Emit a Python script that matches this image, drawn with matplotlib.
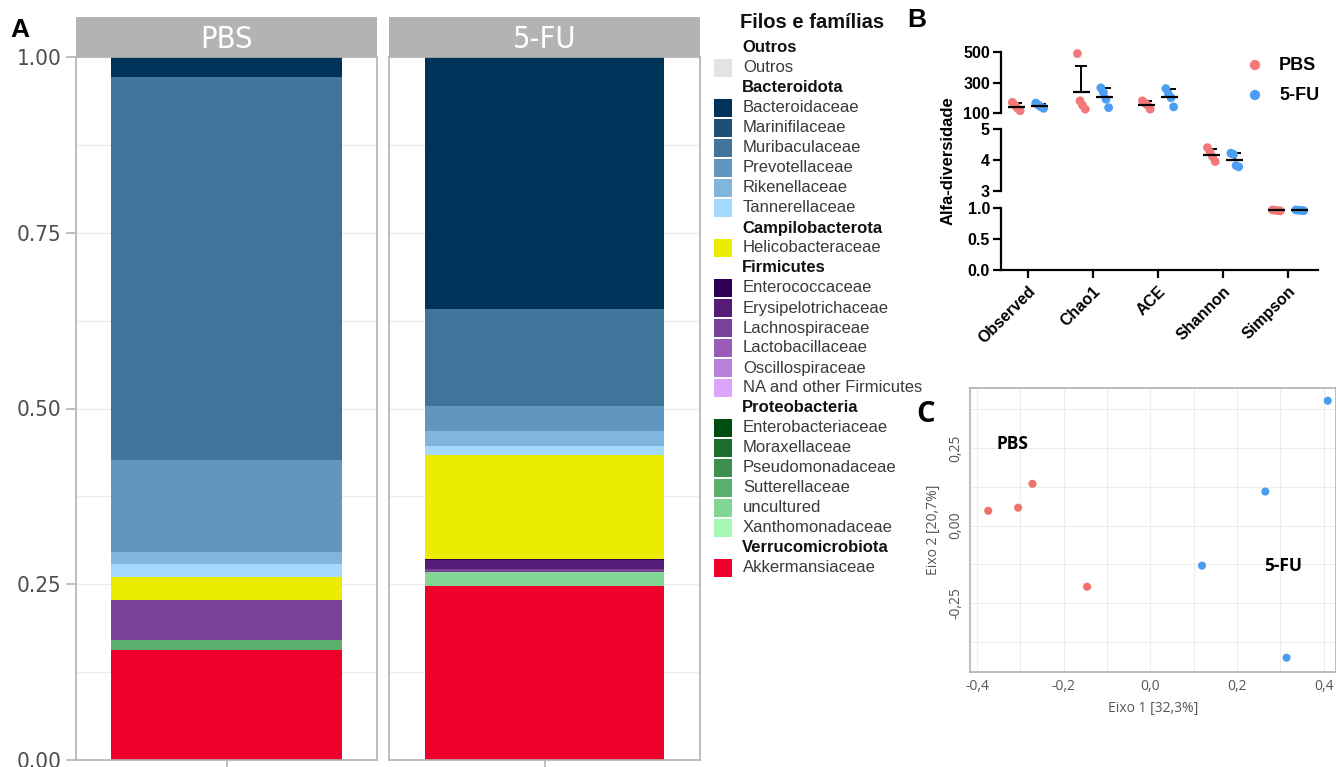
import numpy as np
import matplotlib.pyplot as plt
from matplotlib import font_manager
from matplotlib.patches import Rectangle

W, H = 1336, 767


def tem_fonte(nome):
    try:
        font_manager.findfont(font_manager.FontProperties(family=nome), fallback_to_default=False)
        return True
    except Exception:
        return False


narrow = 'Liberation Sans Narrow' if tem_fonte('Liberation Sans Narrow') else 'DejaVu Sans'
plt.rcParams['font.family'] = ['Liberation Sans', 'DejaVu Sans']

# ---- dados painel A (abundancia relativa) ----
grupos = ['PBS', '5-FU']
filos = ['Outros', 'Bacteroidota', 'Campilobacterota', 'Firmicutes', 'Proteobacteria', 'Verrucomicrobiota']
n_por_filo = [1, 6, 1, 6, 6, 1]
familias = ['Outros',
            'Bacteroidaceae', 'Marinifilaceae', 'Muribaculaceae', 'Prevotellaceae', 'Rikenellaceae', 'Tannerellaceae',
            'Helicobacteraceae',
            'Enterococcaceae', 'Erysipelotrichaceae', 'Lachnospiraceae', 'Lactobacillaceae', 'Oscillospiraceae',
            'NA and other Firmicutes',
            'Enterobacteriaceae', 'Moraxellaceae', 'Pseudomonadaceae', 'Sutterellaceae', 'uncultured',
            'Xanthomonadaceae',
            'Akkermansiaceae']
cores = ['#e3e3e3',
         '#00335a', '#1d4f79', '#41749b', '#6096bf', '#80b5de', '#a3d8ff',
         '#ebec00',
         '#2e0055', '#561b76', '#7a4199', '#9a5cb9', '#ba7fd8', '#dca5fb',
         '#004d12', '#1b6e2e', '#3c8f4f', '#5bb06d', '#82d693', '#a6f8b3',
         '#ee002a']
abund_pbs = [0, 0.029, 0, 0.544, 0.131, 0.017, 0.018, 0.034, 0, 0, 0.057, 0, 0, 0,
             0, 0, 0, 0.014, 0, 0, 0.156]
abund_fu = [0, 0.358, 0, 0.138, 0.036, 0.022, 0.012, 0.148, 0.002, 0.013, 0.004, 0, 0, 0,
            0, 0, 0, 0, 0.020, 0, 0.247]

# ---- dados painel B (alfa-diversidade) ----
metricas = ['Observed', 'Chao1', 'ACE', 'Shannon', 'Simpson']
alfa_pbs = [[170, 150, 130, 115], [490, 180, 150, 125], [180, 165, 150, 125],
            [4.40, 4.25, 4.10, 3.95], [0.970, 0.965, 0.960, 0.955]]
alfa_fu = [[165, 152, 140, 130], [265, 235, 190, 135], [260, 225, 200, 140],
           [4.22, 4.18, 3.82, 3.78], [0.970, 0.966, 0.962, 0.958]]
eixo_metrica = [0, 0, 0, 1, 2]

# ---- dados painel C (PCoA) ----
pc_pbs_x = [-0.374, -0.305, -0.272, -0.146]
pc_pbs_y = [0.048, 0.058, 0.135, -0.197]
pc_fu_x = [0.119, 0.265, 0.314, 0.409]
pc_fu_y = [-0.129, 0.110, -0.426, 0.403]

cor_pbs = '#f4777a'
cor_fu = '#4b9ef2'


def px(l, t, r, b):
    return [l / W, 1 - b / H, (r - l) / W, (b - t) / H]


fig = plt.figure(figsize=(W / 100, H / 100), dpi=100)

# ================= Painel A =================
painel_x = [(76, 377), (389, 700)]
for i, (g, ab) in enumerate(zip(grupos, [abund_pbs, abund_fu])):
    ax = fig.add_axes(px(painel_x[i][0], 57, painel_x[i][1], 760))
    base = 0
    for fam, cor, v in reversed(list(zip(familias, cores, ab))):
        if v > 0:
            ax.bar(1, v, width=0.92, bottom=base, color=cor, linewidth=0, zorder=2)
        base += v
    ax.set_xlim(0.4, 1.6)
    ax.set_ylim(0, 1)
    ax.set_yticks([0, 0.25, 0.5, 0.75, 1.0])
    ax.set_yticks([0.125, 0.375, 0.625, 0.875], minor=True)
    ax.set_xticks([1])
    ax.set_xticklabels([''])
    ax.grid(True, which='both', axis='y', color='#ebebeb', linewidth=1, zorder=0)
    ax.grid(True, which='major', axis='x', color='#ebebeb', linewidth=1, zorder=0)
    ax.set_axisbelow(True)
    for s in ax.spines.values():
        s.set_color('#b3b3b3')
        s.set_linewidth(1.2)
    ax.tick_params(which='minor', length=0)
    ax.tick_params(which='major', color='#b3b3b3', length=7, width=1.2)
    if i == 0:
        ax.set_yticklabels(['0.00', '0.25', '0.50', '0.75', '1.00'], family=narrow,
                           fontstretch='condensed', fontsize=16, color='#4d4d4d')
    else:
        ax.set_yticklabels([])
        ax.tick_params(axis='y', length=0)
    # faixa do grupo
    strip = fig.add_axes(px(painel_x[i][0], 17, painel_x[i][1], 57))
    strip.set_facecolor('#b3b3b3')
    strip.set_xticks([])
    strip.set_yticks([])
    for s in strip.spines.values():
        s.set_visible(False)
    strip.text(0.5, 0.45, g, ha='center', va='center', color='white', fontsize=22,
               family=narrow, fontstretch='condensed', transform=strip.transAxes)

# sobreposicao em pixels para legendas e letras
ov = fig.add_axes([0, 0, 1, 1], zorder=5)
ov.set_xlim(0, W)
ov.set_ylim(H, 0)
ov.axis('off')
ov.patch.set_alpha(0)

ov.text(740, 22, 'Filos e famílias', fontsize=14.5, fontweight='bold', va='center', ha='left',
        color='#111111')
linha = 0
k = 0
for filo, n in zip(filos, n_por_filo):
    y = 48 + 20 * linha
    ov.text(742, y, filo, fontsize=12, fontweight='bold', va='center', ha='left', color='#111111')
    linha += 1
    for j in range(n):
        y = 48 + 20 * linha
        ov.add_patch(Rectangle((714, y - 9), 18, 18, facecolor=cores[k], edgecolor='none'))
        ov.text(743, y, familias[k], fontsize=12, va='center', ha='left', color='#3a3a3a')
        linha += 1
        k += 1

ov.text(10, 30, 'A', fontsize=19, fontweight='bold', va='center', ha='left')
ov.text(907, 20, 'B', fontsize=19, fontweight='bold', va='center', ha='left')
ov.text(916, 414, 'C', fontsize=21, fontweight='bold', va='center', ha='left',
        family=['Open Sans', 'DejaVu Sans'])

# legenda do painel B
for j, (g, cor) in enumerate(zip(grupos, [cor_pbs, cor_fu])):
    ov.scatter(1255, 65 + 30 * j, s=55, color=cor, edgecolor='none')
    ov.text(1279, 65 + 30 * j, g, fontsize=13, fontweight='bold', va='center', ha='left')

# ================= Painel B =================
seg_px = [(49, 114.5), (127.5, 192.5), (205, 270)]
seg_lim = [(90, 520), (2.95, 5.05), (0, 1.05)]
seg_bounds = [(100, 500), (3, 5), (0, 1)]
seg_ticks = [([100, 300, 500], ['100', '300', '500']),
             ([3, 4, 5], ['3', '4', '5']),
             ([0, 0.5, 1.0], ['0.0', '0.5', '1.0'])]
eixos_b = []
for s in range(3):
    ax = fig.add_axes(px(1001, seg_px[s][0], 1318, seg_px[s][1]))
    ax.set_xlim(-0.415, 4.46)
    ax.set_ylim(*seg_lim[s])
    ax.patch.set_alpha(0)
    for nome in ['top', 'right']:
        ax.spines[nome].set_visible(False)
    ax.spines['left'].set_bounds(*seg_bounds[s])
    ax.spines['left'].set_linewidth(1.6)
    ax.set_yticks(seg_ticks[s][0])
    ax.set_yticklabels(seg_ticks[s][1], fontsize=11.5, fontweight='bold')
    ax.tick_params(axis='y', length=6, width=1.6, pad=2)
    if s < 2:
        ax.spines['bottom'].set_visible(False)
        ax.set_xticks([])
    else:
        ax.spines['bottom'].set_linewidth(1.6)
        ax.set_xticks(range(len(metricas)))
        ax.set_xticklabels(metricas, rotation=45, ha='right', rotation_mode='anchor',
                           fontsize=11.5, fontweight='bold')
        ax.tick_params(axis='x', length=6, width=1.6, pad=4)
    eixos_b.append(ax)

desl = 0.18
for m in range(len(metricas)):
    ax = eixos_b[eixo_metrica[m]]
    for vals, sinal, cor in [(alfa_pbs[m], -1, cor_pbs), (alfa_fu[m], 1, cor_fu)]:
        vals = np.array(vals, dtype=float)
        xc = m + sinal * desl
        media = vals.mean()
        dp = vals.std(ddof=1)
        ax.errorbar(xc, media, yerr=[[0], [dp]], color='black', linewidth=1.4, capsize=4,
                    capthick=1.4, zorder=2)
        ordem = np.argsort(-vals)
        offs = np.linspace(-0.06, 0.06, len(vals))
        ax.scatter(xc + offs, vals[ordem], s=40, color=cor, edgecolor='none', zorder=3,
                   clip_on=False)
        ax.hlines(media, xc - 0.13, xc + 0.13, color='black', linewidth=1.6, zorder=4)

fig.text(948 / W, 1 - 161 / H, 'Alfa-diversidade', rotation=90, ha='center', va='center',
         fontsize=12, fontweight='bold')

# ================= Painel C =================
axc = fig.add_axes(px(970, 388, 1336, 672))
axc.set_xlim(-0.416, 0.428)
axc.set_ylim(-0.472, 0.444)
axc.set_xticks([-0.4, -0.2, 0.0, 0.2, 0.4])
axc.set_xticks(np.arange(-0.4, 0.45, 0.1), minor=True)
axc.set_yticks([-0.25, 0.0, 0.25])
axc.set_yticks([-0.375, -0.125, 0.125, 0.375], minor=True)
fc = ['Open Sans', 'DejaVu Sans']
axc.set_xticklabels(['-0,4', '-0,2', '0,0', '0,2', '0,4'], fontsize=10, color='#555555', family=fc)
axc.set_yticklabels(['-0,25', '0,00', '0,25'], fontsize=10, color='#555555', family=fc,
                    rotation=90, va='center')
axc.grid(True, which='both', color='#ededed', linewidth=0.8)
axc.set_axisbelow(True)
axc.tick_params(which='both', length=0, pad=5)
for s in axc.spines.values():
    s.set_color('#b0b0b0')
    s.set_linewidth(1.2)
axc.scatter(pc_pbs_x, pc_pbs_y, s=34, color='#f0706a', edgecolor='none', zorder=3)
axc.scatter(pc_fu_x, pc_fu_y, s=34, color='#4a9cef', edgecolor='none', zorder=3, clip_on=False)
axc.text(-0.356, 0.262, 'PBS', fontsize=12.5, fontweight='bold', family=fc, va='center', ha='left')
axc.text(0.262, -0.13, '5-FU', fontsize=12.5, fontweight='bold', family=fc, va='center', ha='left')
axc.set_xlabel('Eixo 1 [32,3%]', fontsize=10, color='#555555', family=fc, labelpad=5)
axc.set_ylabel('Eixo 2 [20,7%]', fontsize=10, color='#555555', family=fc, labelpad=5)

fig.savefig('out.png', dpi=100)
